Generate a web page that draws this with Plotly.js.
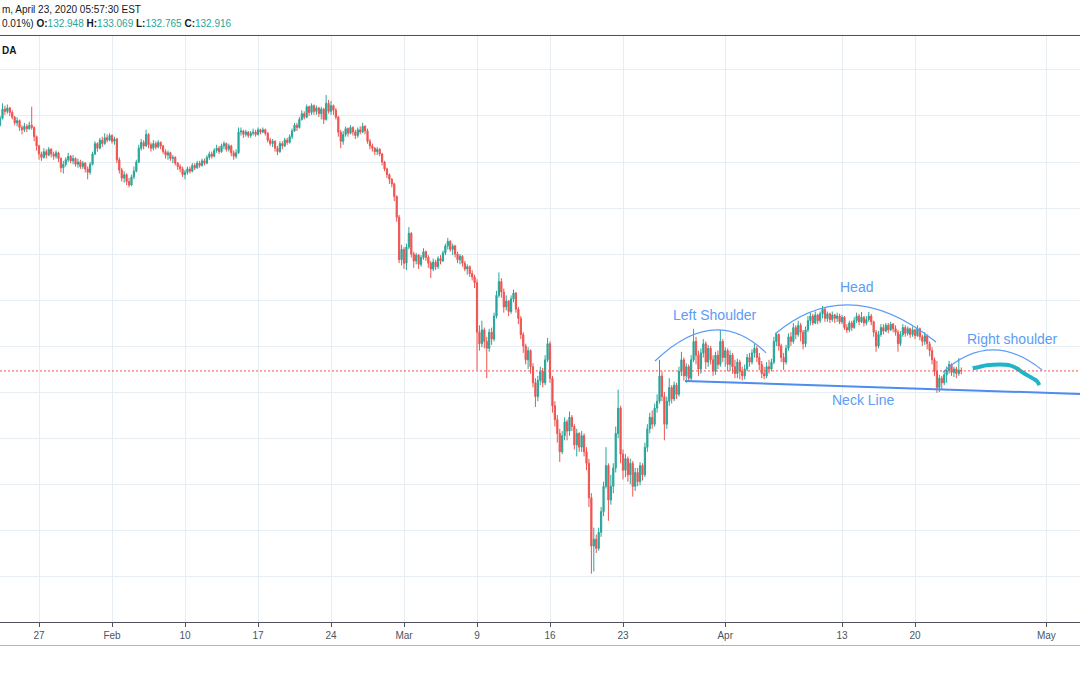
<!DOCTYPE html>
<html>
<head>
<meta charset="utf-8">
<script src="https://cdn.plot.ly/plotly-3.0.1.min.js"></script>
<style>
html,body{margin:0;padding:0;background:#ffffff;}
#chart{width:1080px;height:675px;}
</style>
</head>
<body>
<div id="chart"></div>
<script>
// ---------------- DATA (GBP/JPY, 4h bars, OANDA) ----------------
const firstBarTime = "2020-01-22T05:00";
const barHours = 4;
const firstOpen = 143.50;

const closes = [
143.60,143.90,144.30,144.20,144.35,144.15,143.95,143.70,143.80,143.50,143.40,143.55,143.45,143.60,143.50,
143.10,142.70,142.35,142.20,142.45,142.30,142.55,142.35,142.25,142.40,142.15,141.75,141.90,142.10,142.25,142.05,142.15,141.90,142.00,141.80,141.95,141.70,141.55,141.90,142.35,142.80,142.60,142.95,142.80,143.05,
142.95,143.15,142.90,143.00,142.10,141.65,141.30,141.45,141.15,141.00,141.35,141.60,142.00,142.60,142.85,142.70,143.20,142.75,142.60,142.80,142.65,142.85,142.70,142.45,142.30,142.40,142.15,142.20,141.95,141.80,
141.70,141.45,141.55,141.70,141.60,141.85,141.75,141.95,141.85,142.05,141.95,142.20,142.35,142.25,142.50,142.60,142.45,142.70,142.80,142.55,142.70,142.40,142.25,142.40,143.30,143.35,143.20,143.30,143.15,143.25,
143.30,143.20,143.40,143.30,143.40,143.25,142.95,142.80,142.90,142.60,142.45,142.80,142.70,142.95,142.85,143.10,143.35,143.60,143.50,143.85,144.10,143.95,144.40,144.15,144.45,144.20,144.35,144.10,144.30,143.85,
144.55,144.20,144.45,144.25,143.95,143.30,142.90,143.20,143.45,143.25,143.50,143.30,143.15,143.40,143.30,143.55,143.35,142.90,142.70,142.60,142.45,142.55,142.35,142.00,141.70,141.45,141.25,141.05,140.50,139.60,
137.75,138.20,137.60,138.30,138.90,138.00,137.70,137.95,137.55,137.85,138.10,137.85,137.60,137.35,137.65,137.45,137.80,137.70,138.05,138.35,138.55,138.20,138.35,138.00,137.75,137.90,137.60,137.35,137.45,137.15,
137.00,136.75,134.60,134.10,134.70,134.20,133.90,134.60,134.30,135.30,136.20,136.80,136.35,135.70,135.95,135.50,136.05,136.30,135.60,135.20,134.50,134.00,133.40,133.80,133.10,132.40,131.80,132.50,132.90,132.40,
133.40,134.10,132.60,131.40,130.80,130.20,129.40,130.10,130.70,130.30,130.90,130.50,129.70,130.20,129.60,130.10,129.40,128.90,127.40,125.30,125.60,125.20,125.90,126.80,127.90,128.80,127.30,127.90,128.70,130.20,
131.30,129.30,128.60,129.10,128.40,128.90,127.90,128.50,128.10,128.80,128.40,129.60,130.40,130.90,130.60,131.30,131.60,132.70,131.80,130.60,131.60,132.20,131.70,132.30,131.90,132.90,133.40,132.70,133.10,132.60,
133.40,134.20,133.60,133.00,133.70,134.10,133.30,133.90,133.40,132.90,133.60,133.20,134.20,133.50,133.80,133.20,133.60,133.10,132.80,133.30,132.90,132.70,133.00,133.50,133.30,133.70,133.90,133.50,133.20,132.80,
132.70,133.10,133.00,133.30,134.20,134.50,134.00,133.50,133.30,133.90,134.40,134.20,134.80,134.50,134.90,134.60,134.10,134.70,135.10,135.30,135.00,135.35,135.10,135.40,135.60,135.20,135.40,135.15,135.35,135.20,
135.30,135.05,135.25,134.80,134.70,135.00,134.80,135.10,135.30,135.05,135.25,135.00,135.15,135.30,135.05,134.60,134.00,134.50,134.80,134.65,134.90,134.70,134.95,134.75,134.60,134.10,134.50,134.80,134.55,134.75,
134.50,134.70,134.45,134.75,134.40,134.20,134.45,134.10,133.80,133.40,132.90,132.20,132.60,132.40,132.75,132.95,133.20,132.85,133.00,132.80,132.948,132.916
];

const highs = [
143.85,144.00,144.55,144.45,144.50,144.40,144.25,144.00,143.95,143.85,143.60,143.70,143.65,143.75,144.40,
143.55,143.15,142.75,142.45,142.60,142.55,142.65,142.60,142.45,142.50,142.45,142.20,142.05,142.20,142.40,142.30,142.30,142.20,142.15,142.10,142.05,142.00,141.80,142.00,142.45,142.90,142.85,143.05,143.10,143.25,
143.20,143.25,143.20,143.10,143.05,142.20,141.75,141.60,141.50,141.30,141.45,141.80,142.10,142.75,143.00,142.95,143.40,143.25,142.85,142.95,142.90,142.95,142.90,142.75,142.55,142.50,142.45,142.30,142.25,142.00,
141.90,141.80,141.65,141.80,141.80,141.95,141.95,142.05,142.05,142.15,142.15,142.30,142.45,142.45,142.60,142.75,142.70,142.80,142.90,142.85,142.80,142.75,142.50,142.55,143.50,143.50,143.40,143.40,143.35,143.35,
143.45,143.40,143.50,143.45,143.50,143.45,143.30,143.05,143.00,142.95,142.70,142.90,142.90,143.05,143.05,143.20,143.45,143.70,143.70,143.95,144.25,144.20,144.50,144.45,144.55,144.50,144.45,144.40,144.40,144.35,
144.91,144.70,144.65,144.50,144.35,144.00,143.40,143.35,143.55,143.50,143.60,143.55,143.40,143.50,143.55,143.70,143.60,143.45,143.00,142.80,142.65,142.65,142.60,142.40,142.05,141.75,141.50,141.30,141.10,140.55,
139.70,138.40,138.30,138.45,139.17,138.95,138.10,138.05,138.00,137.95,138.25,138.15,137.95,137.70,137.80,137.75,137.90,137.95,138.15,138.45,138.70,138.60,138.45,138.40,138.10,138.00,137.95,137.70,137.55,137.50,
137.30,137.10,136.90,134.90,135.10,134.80,134.40,134.75,134.80,135.45,136.40,137.20,136.95,136.50,136.20,136.00,136.20,136.45,136.35,135.70,135.30,134.60,134.10,133.95,133.85,133.25,132.60,132.70,133.10,133.05,
133.60,134.35,134.20,132.70,131.60,131.00,130.40,130.30,130.90,130.80,131.15,131.00,130.60,130.40,130.25,130.30,130.20,129.60,129.10,127.60,126.10,125.80,126.10,127.00,128.10,129.60,128.90,128.40,128.90,130.50,
132.10,131.40,129.50,129.30,129.20,129.10,129.00,128.70,128.70,128.95,128.90,129.80,130.60,131.10,131.20,131.50,131.90,133.40,132.90,132.00,131.80,132.60,132.30,132.45,132.40,133.10,133.75,133.50,133.25,133.20,
133.60,134.75,134.40,133.80,133.90,134.30,134.20,134.05,134.00,133.60,133.75,133.80,134.70,134.30,133.95,133.90,133.80,133.70,133.40,133.45,133.40,133.10,133.20,133.65,133.70,133.85,134.10,134.00,133.70,133.35,
133.10,133.30,133.40,133.45,134.40,134.60,134.55,134.10,133.70,134.05,134.55,134.60,135.00,134.90,135.10,135.00,134.70,134.85,135.30,135.45,135.40,135.50,135.40,135.50,135.74,135.65,135.50,135.45,135.50,135.40,
135.45,135.40,135.35,135.30,134.95,135.10,135.10,135.25,135.45,135.40,135.48,135.30,135.30,135.48,135.40,135.10,134.70,134.65,134.95,134.95,135.00,135.00,135.05,135.00,134.90,134.70,134.65,134.95,134.90,134.85,
134.80,134.85,134.75,134.90,134.80,134.50,134.60,134.50,134.20,133.95,133.50,133.35,132.75,132.70,132.90,133.10,133.35,133.25,133.10,133.10,133.48,133.069
];

const lows = [
143.45,143.55,143.85,144.05,144.10,144.00,143.85,143.60,143.55,143.35,143.20,143.30,143.30,143.40,143.40,
142.90,142.50,142.10,142.05,142.15,142.15,142.25,142.20,142.10,142.15,142.00,141.55,141.50,141.80,142.00,141.95,141.90,141.80,141.75,141.70,141.70,141.55,141.25,141.45,141.85,142.30,142.45,142.55,142.65,142.75,
142.85,142.90,142.80,142.75,141.95,141.50,141.15,141.10,141.00,140.90,140.95,141.25,141.55,141.95,142.50,142.55,142.65,142.60,142.45,142.50,142.55,142.60,142.55,142.35,142.15,142.10,142.05,141.95,141.85,141.65,
141.55,141.35,141.25,141.45,141.50,141.55,141.65,141.70,141.75,141.80,141.85,141.90,142.10,142.15,142.20,142.40,142.35,142.40,142.55,142.45,142.45,142.25,142.10,142.15,142.35,143.15,143.05,143.10,143.05,143.05,
143.15,143.10,143.15,143.20,143.25,143.15,142.85,142.70,142.65,142.45,142.30,142.40,142.55,142.65,142.75,142.80,143.00,143.30,143.35,143.45,143.80,143.85,143.90,144.00,144.05,144.05,144.05,143.95,143.85,143.65,
143.80,144.10,144.05,144.05,143.85,143.10,142.60,142.75,143.10,143.10,143.20,143.15,143.00,143.05,143.20,143.25,143.20,142.80,142.55,142.45,142.30,142.30,142.25,141.85,141.60,141.30,141.05,140.90,140.30,139.40,
137.60,137.50,137.35,137.30,138.20,137.85,137.40,137.55,137.35,137.45,137.75,137.70,137.40,136.95,137.25,137.30,137.35,137.55,137.65,137.95,138.20,138.10,137.95,137.85,137.60,137.55,137.45,137.25,137.10,137.00,
136.85,136.52,132.96,133.80,133.95,133.90,132.60,133.75,134.05,134.20,135.20,136.10,136.10,135.45,135.55,135.30,135.40,135.90,135.45,134.95,134.30,133.70,133.20,133.00,132.80,132.20,131.35,131.60,132.30,132.20,
132.30,133.30,132.40,131.10,130.50,129.80,128.96,129.30,129.90,129.90,130.10,130.30,129.50,129.20,129.40,129.40,129.20,128.60,127.00,124.10,124.20,125.00,125.10,125.70,126.60,127.80,126.40,127.10,127.60,128.50,
130.00,128.90,128.20,128.30,128.10,128.00,127.45,127.70,127.90,127.95,128.15,128.30,129.40,130.20,130.40,130.50,131.10,131.50,131.60,129.90,130.40,131.40,131.50,131.60,131.70,131.80,132.70,132.50,132.40,132.45,
132.50,133.30,133.20,132.70,132.80,133.50,133.00,133.10,133.20,132.70,132.75,133.00,133.10,133.30,133.10,132.90,132.90,132.80,132.60,132.60,132.55,132.50,132.55,132.90,133.10,133.20,133.50,133.30,132.95,132.60,
132.56,132.60,132.80,132.90,133.20,134.00,133.80,133.30,132.96,133.20,133.80,134.00,134.10,134.30,134.40,134.20,133.85,133.95,134.60,134.90,134.90,134.95,134.95,135.00,135.20,135.05,135.05,135.00,135.05,135.00,
135.05,134.95,134.95,134.70,134.57,134.60,134.65,134.75,135.00,134.90,135.00,134.85,134.90,135.05,134.90,134.40,133.75,133.90,134.40,134.50,134.60,134.55,134.65,134.60,134.45,133.75,134.00,134.40,134.40,134.45,
134.35,134.40,134.30,134.40,134.25,134.00,134.05,133.85,133.55,133.20,132.70,131.96,132.00,132.10,132.30,132.40,132.80,132.70,132.65,132.60,132.70,132.765
];

// x-axis labels (dates of the labelled trading days)
const tickDates  = ["2020-01-27","2020-02-03","2020-02-10","2020-02-17","2020-02-24","2020-03-02","2020-03-09","2020-03-16","2020-03-23","2020-04-01","2020-04-13","2020-04-20","2020-05-01"];
const tickLabels = ["27","Feb","10","17","24","Mar","9","16","23","Apr","13","20","May"];

// ---------------- DRAWINGS (bar index, price) ----------------
const leftShoulderArc  = {x:[270.15, 295.0, 315.8],  y:[133.35, 135.87, 133.70]};
const headArc          = {x:[319.47, 349.67, 385.63], y:[134.52, 137.22, 134.17]};
const rightShoulderArc = {x:[388.5, 408.4, 429.2],   y:[132.87, 134.74, 132.96]};
const neckLine         = {x:[282.5, 446.0],          y:[132.48, 131.91]};
const brushX = [400.7, 403.7, 406.5, 411.9, 416.0, 418.8, 420.8, 423.6, 425.6, 427.0, 428.1];
const brushY = [133.03, 133.10, 133.16, 133.20, 133.16, 133.03, 132.88, 132.70, 132.58, 132.48, 132.30];
const labelTexts = ["Left Shoulder", "Head", "Neck Line", "Right shoulder"];
const labelX = [294.8, 352.8, 355.6, 416.9];
const labelY = [135.35, 136.57, 131.65, 134.30];

// ---------------- BUILD ----------------
function buildSlots(n) {
  const out = [];
  let t = Date.parse(firstBarTime + ":00Z");
  while (out.length < n) {
    out.push(t);
    t += barHours * 3600e3;
    const d = new Date(t);
    if (d.getUTCDay() === 5 && d.getUTCHours() >= 17) t += 48 * 3600e3; // weekend close
  }
  return out;
}
const slots = buildSlots(480);
const tickPos = tickDates.map(ds => slots.findIndex(t => new Date(t).toISOString().slice(0, 10) === ds));

const opens = closes.map((c, i) => i === 0 ? firstOpen : closes[i - 1]);
const xs = closes.map((_, i) => i);
const last = closes.length - 1;

const UP = '#26a69a', DOWN = '#ef5350';
const DRAW = '#5b9cf6';
const FONT = 'Liberation Sans, Arial, sans-serif';

const candles = {
  type: 'candlestick', x: xs, open: opens, high: highs, low: lows, close: closes,
  increasing: {line: {color: UP, width: 1}, fillcolor: UP},
  decreasing: {line: {color: DOWN, width: 1}, fillcolor: DOWN},
  whiskerwidth: 0, hoverinfo: 'skip', showlegend: false
};
const brush = {
  type: 'scatter', mode: 'lines', x: brushX, y: brushY,
  line: {color: '#1fb5c9', width: 4, shape: 'spline', smoothing: 1},
  hoverinfo: 'skip', showlegend: false
};

function arcPath(a) {
  return `M ${a.x[0]},${a.y[0]} Q ${a.x[1]},${a.y[1]} ${a.x[2]},${a.y[2]}`;
}
const shapes = [
  {type: 'path', xref: 'x', yref: 'y', path: arcPath(leftShoulderArc), line: {color: DRAW, width: 1.2}},
  {type: 'path', xref: 'x', yref: 'y', path: arcPath(headArc), line: {color: DRAW, width: 1.2}},
  {type: 'path', xref: 'x', yref: 'y', path: arcPath(rightShoulderArc), line: {color: DRAW, width: 1.2}},
  {type: 'line', xref: 'x', yref: 'y', x0: neckLine.x[0], y0: neckLine.y[0], x1: neckLine.x[1], y1: neckLine.y[1], line: {color: '#4d8cf0', width: 2}},
  {type: 'line', xref: 'paper', yref: 'y', x0: 0, x1: 1, y0: closes[last], y1: closes[last], line: {color: DOWN, width: 1, dash: '2px,2px'}},
  {type: 'line', xref: 'paper', yref: 'paper', x0: 0, x1: 1, y0: 1.0009, y1: 1.0009, line: {color: '#4a4e59', width: 1}},
  {type: 'line', xref: 'paper', yref: 'paper', x0: 0, x1: 1, y0: -0.0401, y1: -0.0401, line: {color: '#b2b5be', width: 1}}
];

const val = v => `<span style="color:${UP}">${v}</span>`;
const annotations = [
  {xref: 'paper', yref: 'paper', x: 0, y: 1.0444, xanchor: 'left', yanchor: 'middle', xshift: 0, showarrow: false,
   text: 'm, April 23, 2020 05:57:30 EST', font: {family: FONT, size: 10, color: '#131722'}},
  {xref: 'paper', yref: 'paper', x: 0, y: 1.0205, xanchor: 'left', yanchor: 'middle', xshift: 0, showarrow: false,
   text: '0.01%) <b>O:</b>' + val(opens[last].toFixed(3)) + ' <b>H:</b>' + val(highs[last].toFixed(3)) +
         ' <b>L:</b>' + val(lows[last].toFixed(3)) + ' <b>C:</b>' + val(closes[last].toFixed(3)),
   font: {family: FONT, size: 10, color: '#131722'}},
  {xref: 'paper', yref: 'paper', x: 0, y: 0.976, xanchor: 'left', yanchor: 'middle', xshift: 0, showarrow: false,
   text: '<b>DA</b>', font: {family: FONT, size: 10, color: '#131722'}}
];
labelTexts.forEach((t, i) => annotations.push({
  xref: 'x', yref: 'y', x: labelX[i], y: labelY[i], text: t, showarrow: false,
  xanchor: 'center', yanchor: 'middle', font: {family: FONT, size: 14, color: DRAW}
}));

const GRID = '#e6edf3';
const layout = {
  width: 1080, height: 675,
  margin: {l: 0, r: 0, t: 36, b: 53, pad: 0},
  paper_bgcolor: '#ffffff', plot_bgcolor: '#ffffff',
  showlegend: false, hovermode: false,
  xaxis: {
    type: 'linear', range: [0.97, 444.8], fixedrange: true,
    tickmode: 'array', tickvals: tickPos, ticktext: tickLabels,
    showgrid: true, gridcolor: GRID, gridwidth: 1, zeroline: false,
    showline: true, linecolor: '#50535e', linewidth: 1,
    ticks: 'outside', ticklen: 4, tickcolor: '#50535e', tickwidth: 1,
    tickfont: {family: FONT, size: 10, color: '#50535e'},
    rangeslider: {visible: false}
  },
  yaxis: {
    range: [122.0, 147.478], fixedrange: true,
    tick0: 0, dtick: 2, showticklabels: false, ticks: '',
    showgrid: true, gridcolor: GRID, gridwidth: 1, zeroline: false, showline: false
  },
  shapes: shapes,
  annotations: annotations
};

Plotly.newPlot('chart', [candles, brush], layout, {staticPlot: true, displayModeBar: false});
</script>
</body>
</html>
